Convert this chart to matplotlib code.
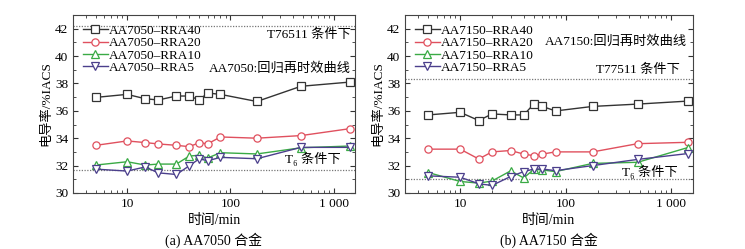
import matplotlib
matplotlib.use("Agg")
import matplotlib.pyplot as plt
from matplotlib.ticker import FixedLocator, FixedFormatter, LogLocator, NullFormatter, MultipleLocator

plt.rcParams["font.family"] = ["Liberation Serif", "Noto Sans CJK SC", "DejaVu Serif"]
plt.rcParams["axes.unicode_minus"] = False

# time (min)
time_a = [5, 10, 15, 20, 30, 40, 50, 60, 80, 180, 480, 1440]
time_b = [5, 10, 15, 20, 30, 40, 50, 60, 80, 180, 480, 1440]

# AA7050 conductivity (%IACS)
a_rra40 = [36.98, 37.2, 36.88, 36.79, 37.08, 37.08, 36.79, 37.3, 37.2, 36.68, 37.79, 38.1]
a_rra20 = [33.48, 33.8, 33.68, 33.58, 33.48, 33.38, 33.68, 33.58, 34.09, 34.0, 34.19, 34.7]
a_rra10 = [32.04, 32.28, 32.04, 32.11, 32.11, 32.7, 32.75, 32.55, 32.94, 32.85, 33.3, 33.43]
a_rra5 = [31.74, 31.6, 31.9, 31.47, 31.35, 31.99, 32.5, 32.35, 32.6, 32.5, 33.33, 33.33]

# AA7150 conductivity (%IACS)
b_rra40 = [35.7, 35.89, 35.29, 35.77, 35.7, 35.7, 36.51, 36.32, 35.99, 36.32, 36.49, 36.71]
b_rra20 = [33.2, 33.2, 32.48, 33.0, 33.1, 32.84, 32.72, 32.84, 33.0, 33.0, 33.6, 33.7]
b_rra10 = [31.49, 30.84, 30.72, 30.87, 31.61, 31.1, 31.73, 31.68, 31.56, 32.16, 32.24, 33.32]
b_rra5 = [31.25, 31.15, 30.67, 30.55, 31.2, 31.56, 31.75, 31.75, 31.63, 32.0, 32.45, 32.88]

a_t7_level = 42.2
a_t6_level = 31.7
b_t7_level = 38.34
b_t6_level = 31.0

colors = ["#333333", "#e0505e", "#3aaa45", "#4b3f8c"]
markers = ["s", "o", "^", "v"]

fig = plt.figure(figsize=(7.45, 2.49), dpi=100)
ax_a = fig.add_axes([0.098, 0.225, 0.3785, 0.715])
ax_b = fig.add_axes([0.5436, 0.225, 0.3864, 0.715])


def draw(ax, t, series, alloy, t7_level, t6_level):
    names = ["RRA40", "RRA20", "RRA10", "RRA5"]
    for y, c, m, n in zip(series, colors, markers, names):
        ax.plot(t, y, color=c, marker=m, markersize=5.2, markerfacecolor="white",
                markeredgewidth=0.9, linewidth=1.0, label=f"{alloy}–{n}")
    ax.axhline(t7_level, color="#777777", linestyle=(0, (1, 1.2)), linewidth=0.9, zorder=0)
    ax.axhline(t6_level, color="#777777", linestyle=(0, (1, 1.2)), linewidth=0.9, zorder=0)
    ax.set_xscale("log")
    ax.set_xlim(3, 1600)
    ax.set_ylim(30, 43)
    ax.yaxis.set_major_locator(MultipleLocator(2))
    ax.yaxis.set_minor_locator(MultipleLocator(1))
    ax.xaxis.set_major_locator(FixedLocator([10, 100, 1000]))
    ax.xaxis.set_major_formatter(FixedFormatter(["10", "100", "1 000"]))
    ax.xaxis.set_minor_locator(LogLocator(base=10, subs=range(2, 10)))
    ax.xaxis.set_minor_formatter(NullFormatter())
    ax.tick_params(which="both", direction="in", top=True, right=True, labelsize=9.5,
                   pad=3.5, color="#333333")
    ax.tick_params(which="major", length=3.5)
    ax.tick_params(which="minor", length=2)
    for s in ax.spines.values():
        s.set_color("#444444")
        s.set_linewidth(0.8)
    ax.set_xlabel("时间/min", fontsize=10, labelpad=3)
    ax.set_ylabel("电导率/%IACS", fontsize=9.5, labelpad=2)
    ax.legend(loc="upper left", frameon=False, fontsize=9.5, handlelength=1.9,
              handletextpad=0.05, labelspacing=0.0, borderaxespad=0.45,
              borderpad=0.3, markerscale=1.0)


draw(ax_a, time_a, [a_rra40, a_rra20, a_rra10, a_rra5], "AA7050", a_t7_level, a_t6_level)
draw(ax_b, time_b, [b_rra40, b_rra20, b_rra10, b_rra5], "AA7150", b_t7_level, b_t6_level)

ax_a.text(1450, 41.55, "T76511 条件下", fontsize=9.5, ha="right", va="center")
ax_a.text(1450, 39.1, "AA7050:回归再时效曲线", fontsize=9.5, ha="right", va="center")
ax_a.text(630, 32.5, "T₆ 条件下", fontsize=9.5, ha="center", va="center")

ax_b.text(1400, 41.05, "AA7150:回归再时效曲线", fontsize=9.5, ha="right", va="center")
ax_b.text(1210, 39.0, "T77511 条件下", fontsize=9.5, ha="right", va="center")
ax_b.text(630, 31.5, "T₆ 条件下", fontsize=9.5, ha="center", va="center")

fig.text(0.287, 0.035, "(a) AA7050 合金", fontsize=10, ha="center", va="center")
fig.text(0.737, 0.035, "(b) AA7150 合金", fontsize=10, ha="center", va="center")

fig.savefig("out.png", dpi=100)
